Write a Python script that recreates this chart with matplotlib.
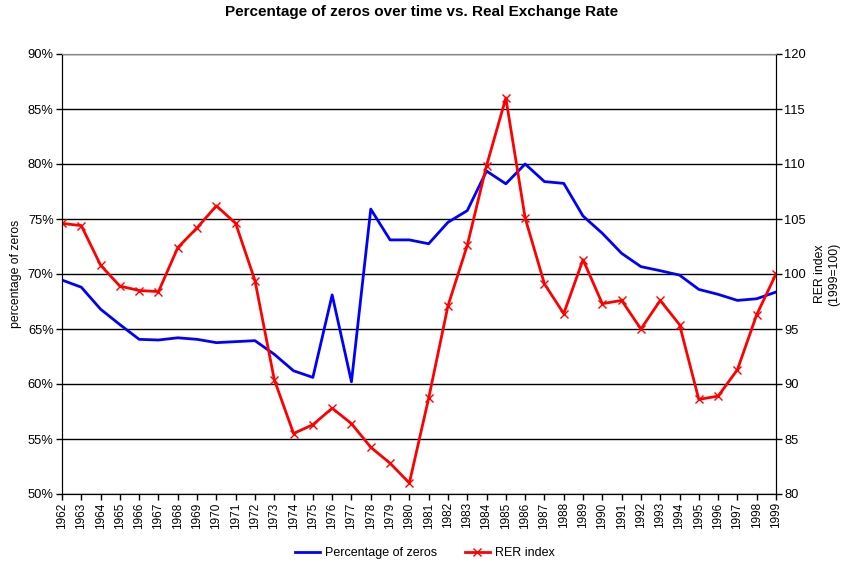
import matplotlib
matplotlib.use("Agg")
import matplotlib.pyplot as plt
import numpy as np

plt.rcParams['font.family'] = ['Liberation Sans', 'DejaVu Sans']

years = list(range(1962, 2000))
pct_zeros = [69.45, 68.8, 66.8, 65.4, 64.06, 64.0, 64.2, 64.06, 63.76, 63.85,
             63.94, 62.7, 61.2, 60.6, 68.1, 60.2, 75.9, 73.1, 73.1, 72.75,
             74.7, 75.76, 79.36, 78.2, 80.0, 78.4, 78.24, 75.27, 73.7, 71.88,
             70.67, 70.3, 69.9, 68.6, 68.15, 67.6, 67.75, 68.36]
rer_index = [104.6, 104.4, 100.8, 98.9, 98.5, 98.4, 102.4, 104.2, 106.2, 104.6,
             99.4, 90.4, 85.5, 86.3, 87.8, 86.4, 84.25, 82.8, 81.0, 88.7,
             97.1, 102.6, 109.85, 116.0, 105.1, 99.1, 96.4, 101.3, 97.3, 97.6,
             95.0, 97.6, 95.4, 88.6, 88.9, 91.3, 96.3, 100.0]
left_ticks = [50, 55, 60, 65, 70, 75, 80, 85, 90]
right_ticks = [80, 85, 90, 95, 100, 105, 110, 115, 120]

fig = plt.figure(figsize=(8.43, 5.68), dpi=100)
ax = fig.add_axes([62/843, 1-494/568, (776-62)/843, 440/568])
ax2 = ax.twinx()

x = np.arange(len(years))
l1, = ax.plot(x, pct_zeros, color='#0000FF', lw=2.0, label='Percentage of zeros')
l2, = ax2.plot(x, rer_index, color='#FF0000', lw=2.0, marker='x', ms=6, mew=1.0,
               label='RER index')

ax.set_xlim(0, len(years)-1)
ax.set_ylim(50, 90)
ax2.set_ylim(80, 120)
ax.set_yticks(left_ticks)
ax.set_yticklabels([f"{t}%" for t in left_ticks], fontsize=9.3)
ax2.set_yticks(right_ticks)
ax2.set_yticklabels([str(t) for t in right_ticks], fontsize=9.3)
ax.set_xticks(x)
ax.set_xticklabels([str(y) for y in years], rotation=90, fontsize=8.5)
ax.yaxis.grid(True, color='black', lw=1.0)
ax.set_axisbelow(True)
for a in (ax, ax2):
    a.tick_params(length=4, width=1, color='black', pad=2)
    a.spines['top'].set_color('#888888')
    a.spines['left'].set_color('black')
    a.spines['right'].set_color('black')
    a.spines['bottom'].set_color('black')

ax.set_ylabel('percentage of zeros', fontsize=8.8, labelpad=4)
ax2.set_ylabel('RER index\n(1999=100)', fontsize=8.8, labelpad=6, rotation=90)

fig.suptitle('Percentage of zeros over time vs. Real Exchange Rate',
             fontsize=11, fontweight='bold', y=1-12/568, va='center')

fig.legend(handles=[l1, l2], loc='center', bbox_to_anchor=(425/843, 1-553/568),
           ncol=2, frameon=False, fontsize=9, handlelength=2.0,
           handletextpad=0.4, columnspacing=2.2)

fig.savefig('out.png', dpi=100)
